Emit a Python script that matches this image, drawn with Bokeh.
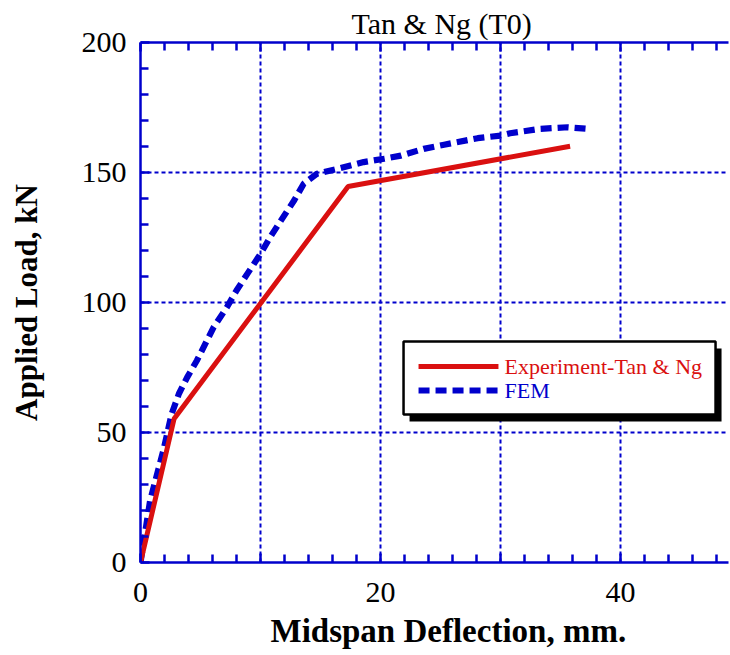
from bokeh.plotting import figure
from bokeh.models import (Range1d, FixedTicker, LinearAxis, Label, BoxAnnotation, Title)
from bokeh.embed import file_html
from bokeh.resources import INLINE

# ---- data ----
exp_x = [0, 2.8, 17.3, 35.8]
exp_y = [0, 55.3, 144.6, 160.1]

fem_x = [0, 0.8, 1.9, 2.6, 3.2, 3.9, 4.7, 6.1, 7.2, 8.0, 8.9, 10.0, 10.8, 11.7,
         12.8, 13.6, 14.7, 16.4, 18.6, 20.3, 21.7, 23.6, 25.3, 28.1, 30.0, 30.8,
         33.3, 35.6, 37.2]
fem_y = [0, 23.8, 43.0, 57.2, 64.9, 71.3, 77.7, 90.5, 98.2, 104.6, 111.0, 118.7,
         125.1, 131.5, 139.2, 145.7, 149.5, 151.4, 154.0, 155.3, 156.5, 159.1,
         160.7, 163.2, 164.2, 165.1, 166.8, 167.4, 166.8]

x_major = [0, 10, 20, 30, 40]
x_minor = [v for v in range(2, 50, 2) if v % 10 != 0]
x_labels = {0: "0", 10: "", 20: "20", 30: "", 40: "40"}
y_major = [0, 50, 100, 150, 200]
y_minor = [v for v in range(10, 200, 10) if v % 50 != 0]
x_grid = [10, 20, 30, 40]
y_grid = [50, 100, 150]

BLUE = "#0000CC"
RED = "#DA1010"
SERIF = "Liberation Serif"

p = figure(width=730, height=655, output_backend="svg", toolbar_location=None,
           x_range=Range1d(0, 49), y_range=Range1d(0, 200),
           x_axis_location=None, y_axis_location=None,
           min_border_left=140, min_border_right=2, min_border_top=42,
           min_border_bottom=93)
p.outline_line_color = None
p.background_fill_color = "white"
p.border_fill_color = "white"

def style_axis(ax, ticks, minor, overrides, standoff, labels=True):
    ax.ticker = FixedTicker(ticks=ticks, minor_ticks=minor)
    ax.axis_line_color = BLUE
    ax.axis_line_width = 2.5
    ax.major_tick_line_color = BLUE
    ax.major_tick_line_width = 2.5
    ax.minor_tick_line_color = BLUE
    ax.minor_tick_line_width = 2.5
    ax.major_tick_in = 9
    ax.major_tick_out = 0
    ax.minor_tick_in = 8
    ax.minor_tick_out = 0
    ax.major_label_overrides = overrides
    ax.major_label_standoff = standoff
    ax.major_label_text_font = SERIF
    ax.major_label_text_color = "black"
    if labels:
        ax.major_label_text_font_size = "30px"
    else:
        ax.major_label_text_font_size = "1px"
        ax.major_label_text_color = None

xb = LinearAxis()
style_axis(xb, x_major, x_minor, x_labels, 20)
p.add_layout(xb, "below")

xt = LinearAxis()
style_axis(xt, x_major, x_minor, {v: "" for v in x_major}, 0, labels=False)
p.add_layout(xt, "above")

yl = LinearAxis()
style_axis(yl, y_major, y_minor, {v: str(v) for v in y_major}, 14)
yl.axis_label = "Applied Load, kN"
yl.axis_label_text_font = SERIF
yl.axis_label_text_font_size = "31px"
yl.axis_label_text_font_style = "bold"
yl.axis_label_text_color = "black"
yl.axis_label_standoff = 35
p.add_layout(yl, "left")

p.xgrid.ticker = FixedTicker(ticks=x_grid)
p.ygrid.ticker = FixedTicker(ticks=y_grid)
for g in (p.xgrid, p.ygrid):
    g.grid_line_color = BLUE
    g.grid_line_width = 2
    g.grid_line_dash = "4 3"

# ---- series ----
p.line(fem_x, fem_y, line_color=BLUE, line_width=6.2, line_dash="11 6")
p.line(exp_x, exp_y, line_color=RED, line_width=5)

# ---- legend (drawn manually, with drop shadow) ----
lg_left, lg_right, lg_top, lg_bottom = 21.92, 47.92, 85.0, 56.9
sh_dx, sh_dy = 0.5, -2.7
p.add_layout(BoxAnnotation(left=lg_left + sh_dx, right=lg_right + sh_dx,
                           top=lg_top + sh_dy, bottom=lg_bottom + sh_dy,
                           fill_color="black", fill_alpha=1, line_color=None))
p.add_layout(BoxAnnotation(left=lg_left, right=lg_right, top=lg_top,
                           bottom=lg_bottom, fill_color="white", fill_alpha=1,
                           line_color="black", line_width=2.5, line_alpha=1))
leg_x0, leg_x1, leg_tx = 23.17, 29.83, 30.33
leg_rows = [75.4, 66.2]
p.line([leg_x0, leg_x1], [leg_rows[0]] * 2, line_color=RED, line_width=5,
       level="overlay")
p.line([leg_x0, leg_x1], [leg_rows[1]] * 2, line_color=BLUE, line_width=6,
       line_dash="11 6", level="overlay")
p.add_layout(Label(x=leg_tx, y=leg_rows[0], text="Experiment-Tan & Ng",
                   text_font=SERIF, text_font_size="22px", text_color=RED,
                   text_baseline="middle", level="overlay"))
p.add_layout(Label(x=leg_tx, y=leg_rows[1], text="FEM",
                   text_font=SERIF, text_font_size="22px", text_color=BLUE,
                   text_baseline="middle", level="overlay"))

# ---- titles ----
p.add_layout(Title(text="Tan & Ng (T0)", text_font=SERIF, text_font_size="30px",
                   text_font_style="normal", text_color="black",
                   align="left", offset=211, standoff=5), "above")
p.add_layout(Title(text="Midspan Deflection, mm.", text_font=SERIF,
                   text_font_size="33px", text_font_style="bold",
                   text_color="black", align="left", offset=130,
                   standoff=13), "below")

open("out.html", "w").write(file_html(p, INLINE))
